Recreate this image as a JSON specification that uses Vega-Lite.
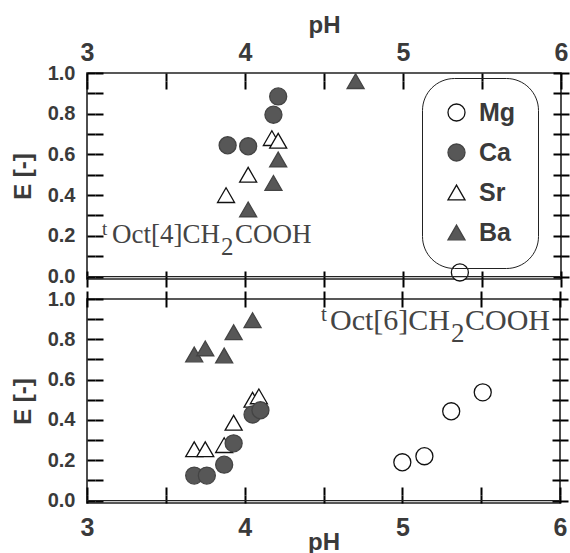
{
  "$schema": "https://vega.github.io/schema/vega-lite/v6.json",
  "background": "white",
  "padding": {"top": 12, "left": 10, "right": 4, "bottom": 0},
  "spacing": 0,
  "datasets": {
    "pts": [
      {"panel": "C4", "metal": "Mg", "pH": 5.36, "E": 0.02},
      {"panel": "C4", "metal": "Ca", "pH": 3.89, "E": 0.645},
      {"panel": "C4", "metal": "Ca", "pH": 4.02, "E": 0.64},
      {"panel": "C4", "metal": "Ca", "pH": 4.18, "E": 0.795},
      {"panel": "C4", "metal": "Ca", "pH": 4.21, "E": 0.885},
      {"panel": "C4", "metal": "Sr", "pH": 3.88, "E": 0.40},
      {"panel": "C4", "metal": "Sr", "pH": 4.02, "E": 0.50},
      {"panel": "C4", "metal": "Sr", "pH": 4.17, "E": 0.68},
      {"panel": "C4", "metal": "Sr", "pH": 4.21, "E": 0.667},
      {"panel": "C4", "metal": "Ba", "pH": 4.70, "E": 0.96},
      {"panel": "C4", "metal": "Ba", "pH": 4.02, "E": 0.33},
      {"panel": "C4", "metal": "Ba", "pH": 4.18, "E": 0.46},
      {"panel": "C4", "metal": "Ba", "pH": 4.21, "E": 0.575},
      {"panel": "C6", "metal": "Ba", "pH": 3.68, "E": 0.725},
      {"panel": "C6", "metal": "Ba", "pH": 3.75, "E": 0.755},
      {"panel": "C6", "metal": "Ba", "pH": 3.87, "E": 0.72},
      {"panel": "C6", "metal": "Ba", "pH": 3.93, "E": 0.835},
      {"panel": "C6", "metal": "Ba", "pH": 4.05, "E": 0.895},
      {"panel": "C6", "metal": "Sr", "pH": 3.68, "E": 0.255},
      {"panel": "C6", "metal": "Sr", "pH": 3.75, "E": 0.255},
      {"panel": "C6", "metal": "Sr", "pH": 3.87, "E": 0.275},
      {"panel": "C6", "metal": "Sr", "pH": 3.93, "E": 0.386},
      {"panel": "C6", "metal": "Sr", "pH": 4.05, "E": 0.50},
      {"panel": "C6", "metal": "Sr", "pH": 4.09, "E": 0.517},
      {"panel": "C6", "metal": "Ca", "pH": 3.68, "E": 0.124},
      {"panel": "C6", "metal": "Ca", "pH": 3.76, "E": 0.124},
      {"panel": "C6", "metal": "Ca", "pH": 3.87, "E": 0.178},
      {"panel": "C6", "metal": "Ca", "pH": 3.93, "E": 0.284},
      {"panel": "C6", "metal": "Ca", "pH": 4.05, "E": 0.427},
      {"panel": "C6", "metal": "Ca", "pH": 4.10, "E": 0.448},
      {"panel": "C6", "metal": "Mg", "pH": 5.00, "E": 0.19},
      {"panel": "C6", "metal": "Mg", "pH": 5.14, "E": 0.22},
      {"panel": "C6", "metal": "Mg", "pH": 5.31, "E": 0.443},
      {"panel": "C6", "metal": "Mg", "pH": 5.51, "E": 0.537}
    ],
    "one": [{"k": 1}]
  },
  "config": {
    "view": {"stroke": "#222", "strokeWidth": 1.6},
    "axis": {
      "grid": false,
      "domain": false,
      "ticks": true,
      "zindex": 1,
      "labelFont": "Liberation Sans",
      "labelFontWeight": "bold",
      "labelFontSize": 20,
      "labelColor": "#3a3a3a",
      "tickColor": "black",
      "tickWidth": 2,
      "tickSize": 8,
      "offset": -8,
      "gridColor": "black",
      "gridWidth": 2,
      "gridOpacity": 1,
      "titleFont": "Liberation Sans",
      "titleFontWeight": "bold",
      "titleFontSize": 24,
      "titleColor": "#3a3a3a",
      "labelFlush": false
    },
    "legend": {
      "labelFont": "Liberation Sans",
      "labelFontWeight": "bold",
      "labelFontSize": 25,
      "labelColor": "#3a3a3a"
    }
  },
  "resolve": {"scale": {"shape": "independent", "fill": "independent", "stroke": "independent"}},
  "vconcat": [
    {
      "width": 474,
      "height": 206,
      "layer": [
        {
          "data": {"name": "pts"},
          "transform": [{"filter": "datum.panel === 'C4'"}],
          "mark": {"type": "point", "filled": true, "size": 290, "strokeWidth": 1.3, "opacity": 1},
          "encoding": {
            "x": {"field": "pH", "type": "quantitative",
              "scale": {"domain": [3, 6], "nice": false, "zero": false},
              "axis": {"orient": "top", "title": "pH", "values": [3, 3.5, 4, 4.5, 5, 5.5, 6],
                "grid": true, "gridDash": [8, 190, 8, 2000],
                "labelExpr": "datum.value % 1 === 0 ? format(datum.value, 'd') : ''", "labelFontSize": 25, "labelPadding": 8, "titlePadding": 3}},
            "y": {"field": "E", "type": "quantitative",
              "scale": {"domain": [-0.012, 1], "nice": false, "zero": false},
              "axis": {"orient": "left", "title": "E [-]", "values": [0, 0.1, 0.2, 0.3, 0.4, 0.5, 0.6, 0.7, 0.8, 0.9, 1.0],
                "grid": true, "gridDash": [8, 458, 8, 2000],
                "labelExpr": "round(datum.value * 10) % 2 === 0 ? format(datum.value, '.1f') : ''", "labelPadding": 12, "titlePadding": 12}},
            "shape": {"field": "metal", "type": "nominal",
              "scale": {"domain": ["Mg", "Ca", "Sr", "Ba"], "range": ["circle", "circle", "triangle-up", "triangle-up"]},
              "legend": {"title": null, "orient": "none", "legendX": 335, "legendY": 5,
                "strokeColor": "#222", "cornerRadius": 32, "padding": 22, "rowPadding": 14,
                "symbolSize": 290, "symbolStrokeWidth": 1.3, "labelOffset": 10}},
            "fill": {"field": "metal", "type": "nominal",
              "scale": {"domain": ["Mg", "Ca", "Sr", "Ba"], "range": ["white", "#575757", "white", "#575757"]},
              "legend": {"title": null, "orient": "none", "legendX": 335, "legendY": 5}},
            "stroke": {"field": "metal", "type": "nominal",
              "scale": {"domain": ["Mg", "Ca", "Sr", "Ba"], "range": ["#111", "#444", "#111", "#444"]},
              "legend": {"title": null, "orient": "none", "legendX": 335, "legendY": 5}}
          }
        },
        {
          "data": {"name": "one"},
          "mark": {"type": "rule", "color": "#222", "strokeWidth": 1.2},
          "encoding": {
            "y": {"datum": 0, "type": "quantitative",
              "axis": {"orient": "right", "title": null, "labels": false, "minExtent": 0, "maxExtent": 0, "values": [0, 0.1, 0.2, 0.3, 0.4, 0.5, 0.6, 0.7, 0.8, 0.9, 1.0]}}
          }
        },
        {
          "data": {"name": "one"},
          "mark": {"type": "text", "text": "t", "font": "Liberation Serif", "fontSize": 19, "color": "#444", "align": "left", "baseline": "alphabetic", "dy": -8},
          "encoding": {
            "x": {"datum": 3.095, "type": "quantitative",
              "axis": {"orient": "bottom", "title": null, "labels": false, "minExtent": 0, "maxExtent": 0, "values": [3, 3.5, 4, 4.5, 5, 5.5, 6]}},
            "y": {"datum": 0.165, "type": "quantitative", "axis": null}
          }
        },
        {
          "data": {"name": "one"},
          "mark": {"type": "text", "text": "Oct[4]CH", "font": "Liberation Serif", "fontSize": 27, "color": "#444", "align": "left", "baseline": "alphabetic", "dx": 10},
          "encoding": {
            "x": {"datum": 3.095, "type": "quantitative", "axis": null},
            "y": {"datum": 0.165, "type": "quantitative", "axis": null}
          }
        },
        {
          "data": {"name": "one"},
          "mark": {"type": "text", "text": "2", "font": "Liberation Serif", "fontSize": 25, "color": "#444", "align": "left", "baseline": "alphabetic", "dx": 119, "dy": 12},
          "encoding": {
            "x": {"datum": 3.095, "type": "quantitative", "axis": null},
            "y": {"datum": 0.165, "type": "quantitative", "axis": null}
          }
        },
        {
          "data": {"name": "one"},
          "mark": {"type": "text", "text": "COOH", "font": "Liberation Serif", "fontSize": 27, "color": "#444", "align": "left", "baseline": "alphabetic", "dx": 133},
          "encoding": {
            "x": {"datum": 3.095, "type": "quantitative", "axis": null},
            "y": {"datum": 0.165, "type": "quantitative", "axis": null}
          }
        }
      ],
      "resolve": {"axis": {"x": "independent", "y": "independent"}}
    },
    {
      "width": 473,
      "height": 204,
      "layer": [
        {
          "data": {"name": "pts"},
          "transform": [{"filter": "datum.panel === 'C6'"}],
          "mark": {"type": "point", "filled": true, "size": 290, "strokeWidth": 1.3, "opacity": 1},
          "encoding": {
            "x": {"field": "pH", "type": "quantitative",
              "scale": {"domain": [3, 6], "nice": false, "zero": false},
              "axis": {"orient": "bottom", "title": "pH", "values": [3, 3.5, 4, 4.5, 5, 5.5, 6],
                "grid": true, "gridDash": [8, 188, 8, 2000],
                "labelExpr": "datum.value % 1 === 0 ? format(datum.value, 'd') : ''", "labelFontSize": 25, "labelPadding": 12, "titlePadding": -10}},
            "y": {"field": "E", "type": "quantitative",
              "scale": {"domain": [-0.012, 1], "nice": false, "zero": false},
              "axis": {"orient": "left", "title": "E [-]", "values": [0, 0.1, 0.2, 0.3, 0.4, 0.5, 0.6, 0.7, 0.8, 0.9, 1.0],
                "grid": true, "gridDash": [8, 457, 8, 2000],
                "labelExpr": "round(datum.value * 10) % 2 === 0 ? format(datum.value, '.1f') : ''", "labelPadding": 12, "titlePadding": 12}},
            "shape": {"field": "metal", "type": "nominal",
              "scale": {"domain": ["Mg", "Ca", "Sr", "Ba"], "range": ["circle", "circle", "triangle-up", "triangle-up"]}, "legend": null},
            "fill": {"field": "metal", "type": "nominal",
              "scale": {"domain": ["Mg", "Ca", "Sr", "Ba"], "range": ["white", "#575757", "white", "#575757"]}, "legend": null},
            "stroke": {"field": "metal", "type": "nominal",
              "scale": {"domain": ["Mg", "Ca", "Sr", "Ba"], "range": ["#111", "#444", "#111", "#444"]}, "legend": null}
          }
        },
        {
          "data": {"name": "one"},
          "mark": {"type": "rule", "color": "#222", "strokeWidth": 1.2},
          "encoding": {
            "y": {"datum": 0, "type": "quantitative",
              "axis": {"orient": "right", "title": null, "labels": false, "minExtent": 0, "maxExtent": 0, "values": [0, 0.1, 0.2, 0.3, 0.4, 0.5, 0.6, 0.7, 0.8, 0.9, 1.0]}}
          }
        },
        {
          "data": {"name": "one"},
          "mark": {"type": "text", "text": "t", "font": "Liberation Serif", "fontSize": 21, "color": "#444", "align": "left", "baseline": "alphabetic", "dy": -9},
          "encoding": {
            "x": {"datum": 4.484, "type": "quantitative",
              "axis": {"orient": "top", "title": null, "labels": false, "minExtent": 0, "maxExtent": 0, "values": [3, 3.5, 4, 4.5, 5, 5.5, 6]}},
            "y": {"datum": 0.848, "type": "quantitative", "axis": null}
          }
        },
        {
          "data": {"name": "one"},
          "mark": {"type": "text", "text": "Oct[6]CH", "font": "Liberation Serif", "fontSize": 30, "color": "#444", "align": "left", "baseline": "alphabetic", "dx": 9},
          "encoding": {
            "x": {"datum": 4.484, "type": "quantitative", "axis": null},
            "y": {"datum": 0.848, "type": "quantitative", "axis": null}
          }
        },
        {
          "data": {"name": "one"},
          "mark": {"type": "text", "text": "2", "font": "Liberation Serif", "fontSize": 27, "color": "#444", "align": "left", "baseline": "alphabetic", "dx": 130, "dy": 12},
          "encoding": {
            "x": {"datum": 4.484, "type": "quantitative", "axis": null},
            "y": {"datum": 0.848, "type": "quantitative", "axis": null}
          }
        },
        {
          "data": {"name": "one"},
          "mark": {"type": "text", "text": "COOH", "font": "Liberation Serif", "fontSize": 30, "color": "#444", "align": "left", "baseline": "alphabetic", "dx": 144},
          "encoding": {
            "x": {"datum": 4.484, "type": "quantitative", "axis": null},
            "y": {"datum": 0.848, "type": "quantitative", "axis": null}
          }
        }
      ],
      "resolve": {"axis": {"x": "independent", "y": "independent"}}
    }
  ]
}
